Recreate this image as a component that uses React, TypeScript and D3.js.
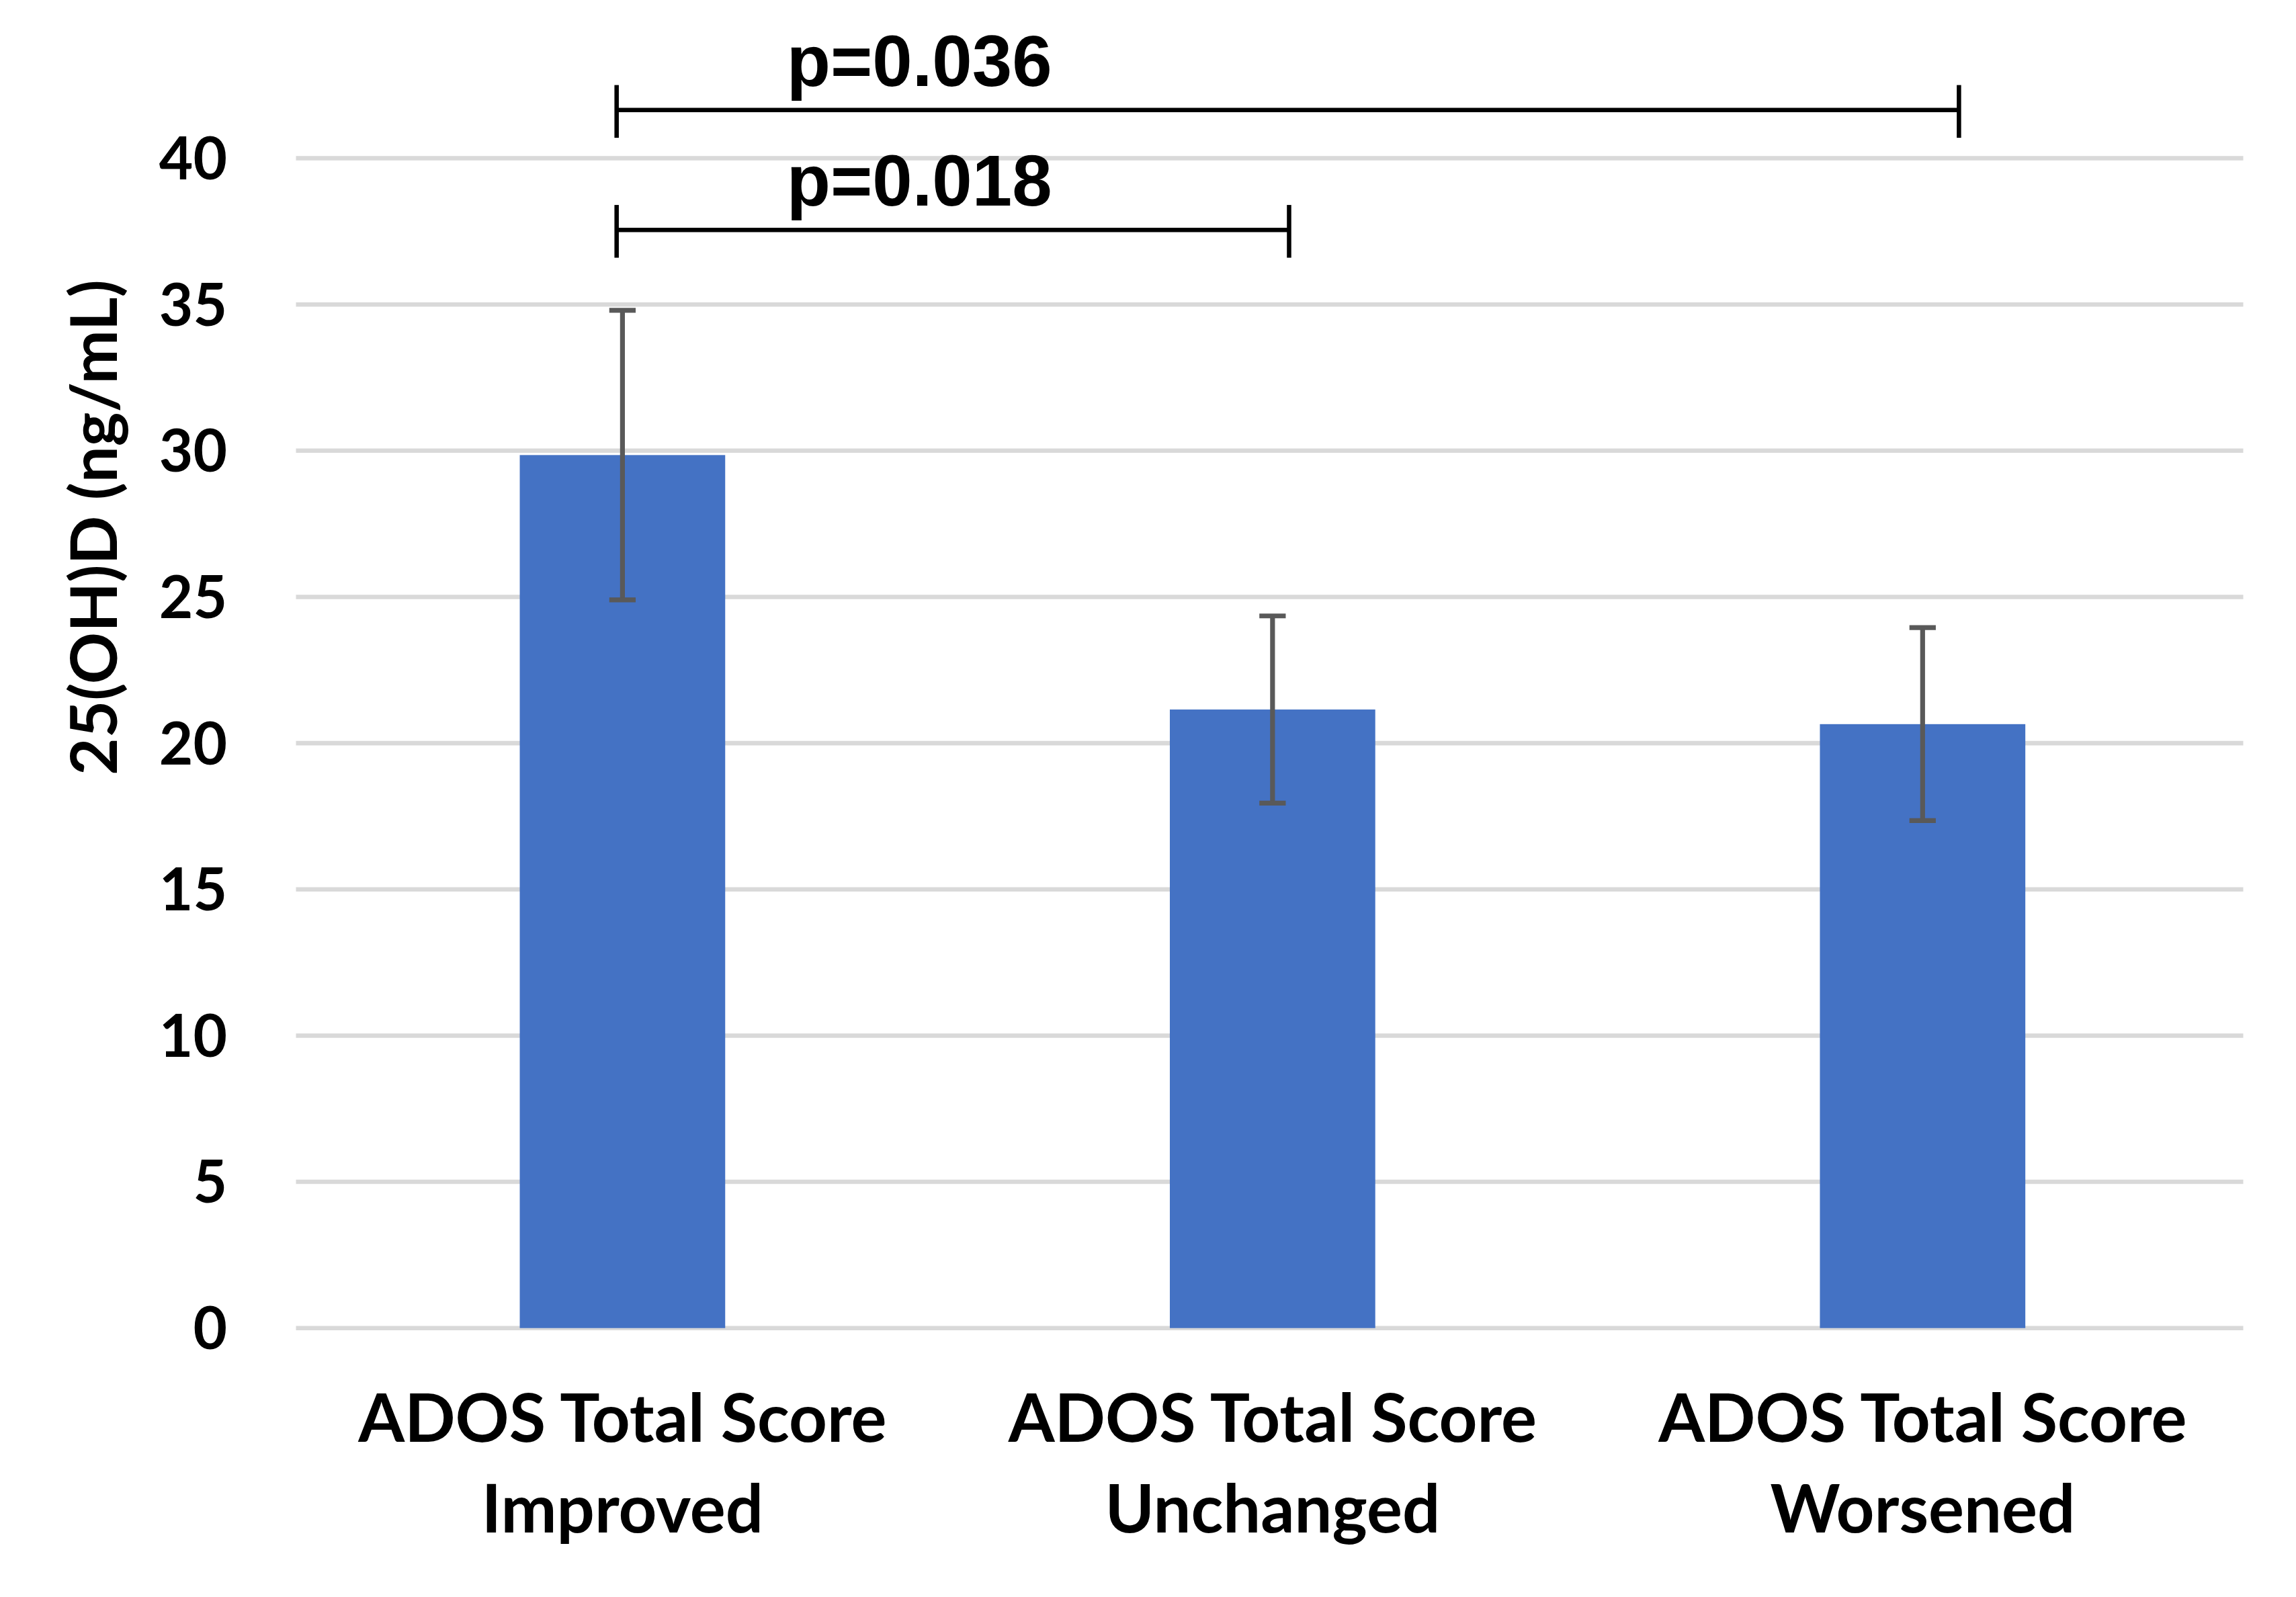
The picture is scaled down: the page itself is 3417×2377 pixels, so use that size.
import * as d3 from "d3";
import { FC, useEffect, useRef } from "react";

// image size and the drawing space used for the viewBox
const W = 3417;
const H = 2377;
const VW = 1567;
const VH = (VW * H) / W;

const categories = ["Improved", "Unchanged", "Worsened"];
const labelTop = "ADOS Total Score";
const means = [29.85, 21.15, 20.65];
const sds = [4.95, 3.2, 3.3];
const yTicks = [0, 5, 10, 15, 20, 25, 30, 35, 40];
const yTitle = "25(OH)D (ng/mL)";

// significance brackets, ends in category units (0..3), level in y units
const bracketLabels = ["p=0.018", "p=0.036"];
const bracketFrom = [0.494, 0.494];
const bracketTo = [1.53, 2.562];
const bracketLevel = [37.55, 41.65];

const margin = { left: 202, right: 1531, top: 108, bottom: 906.5 };
const LABEL_FONT = "Lato, 'Open Sans', sans-serif";

const App: FC = () => {
  const ref = useRef<SVGSVGElement | null>(null);

  useEffect(() => {
    if (!ref.current) return;
    const svg = d3.select(ref.current);
    svg.selectAll("*").remove();

    const x = d3
      .scaleBand<string>()
      .domain(categories)
      .range([margin.left + 1, margin.right + 3])
      .paddingInner(0.684)
      .paddingOuter(0.342);
    const xPos = d3.scaleLinear([0, 3], [margin.left, margin.right]);
    const y = d3.scaleLinear([0, 40], [margin.bottom, margin.top]);

    svg
      .append("rect")
      .attr("width", VW)
      .attr("height", VH)
      .attr("fill", "#fff");

    // gridlines
    svg
      .append("g")
      .selectAll("line")
      .data(yTicks)
      .enter()
      .append("line")
      .attr("x1", margin.left)
      .attr("x2", margin.right)
      .attr("y1", (d) => y(d))
      .attr("y2", (d) => y(d))
      .attr("stroke", "#d9d9d9")
      .attr("stroke-width", 3);

    // y tick labels
    svg
      .append("g")
      .selectAll("text")
      .data(yTicks)
      .enter()
      .append("text")
      .attr("x", 155)
      .attr("y", (d) => y(d))
      .attr("dy", "0.36em")
      .attr("text-anchor", "end")
      .attr("font-family", LABEL_FONT)
      .attr("font-weight", "bold")
      .attr("font-size", 40)
      .text((d) => d);

    // y title
    svg
      .append("text")
      .attr("transform", "translate(80, 360) rotate(-90)")
      .attr("text-anchor", "middle")
      .attr("font-family", LABEL_FONT)
      .attr("font-weight", "bold")
      .attr("font-size", 44)
      .text(yTitle);

    // bars
    svg
      .append("g")
      .selectAll("rect")
      .data(categories)
      .enter()
      .append("rect")
      .attr("x", (d) => x(d) || 0)
      .attr("width", x.bandwidth())
      .attr("y", (_, i) => y(means[i]))
      .attr("height", (_, i) => y(0) - y(means[i]))
      .attr("fill", "#4472c4");

    // error bars
    const err = svg
      .append("g")
      .attr("stroke", "#595959")
      .attr("stroke-width", 3.3)
      .selectAll("g")
      .data(categories)
      .enter()
      .append("g")
      .attr("transform", (d) => `translate(${(x(d) || 0) + x.bandwidth() / 2}, 0)`);
    err
      .append("line")
      .attr("y1", (_, i) => y(means[i] + sds[i]))
      .attr("y2", (_, i) => y(means[i] - sds[i]));
    err
      .append("line")
      .attr("x1", -9)
      .attr("x2", 9)
      .attr("y1", (_, i) => y(means[i] + sds[i]))
      .attr("y2", (_, i) => y(means[i] + sds[i]));
    err
      .append("line")
      .attr("x1", -9)
      .attr("x2", 9)
      .attr("y1", (_, i) => y(means[i] - sds[i]))
      .attr("y2", (_, i) => y(means[i] - sds[i]));

    // x labels
    const xl = svg
      .append("g")
      .selectAll("g")
      .data(categories)
      .enter()
      .append("g")
      .attr("transform", (d) => `translate(${(x(d) || 0) + x.bandwidth() / 2}, 0)`)
      .attr("text-anchor", "middle")
      .attr("font-family", LABEL_FONT)
      .attr("font-weight", "bold")
      .attr("font-size", 45.5);
    xl.append("text").attr("y", 984).text(labelTop);
    xl.append("text").attr("y", 1046).text((d) => d);

    // significance brackets
    const br = svg
      .append("g")
      .attr("stroke", "#000")
      .attr("stroke-width", 3)
      .selectAll("g")
      .data(bracketLabels)
      .enter()
      .append("g");
    br.append("line")
      .attr("x1", (_, i) => xPos(bracketFrom[i]))
      .attr("x2", (_, i) => xPos(bracketTo[i]))
      .attr("y1", (_, i) => y(bracketLevel[i]))
      .attr("y2", (_, i) => y(bracketLevel[i]));
    br.append("line")
      .attr("x1", (_, i) => xPos(bracketFrom[i]))
      .attr("x2", (_, i) => xPos(bracketFrom[i]))
      .attr("y1", (_, i) => y(bracketLevel[i]) - 17)
      .attr("y2", (_, i) => y(bracketLevel[i]) + 19);
    br.append("line")
      .attr("x1", (_, i) => xPos(bracketTo[i]))
      .attr("x2", (_, i) => xPos(bracketTo[i]))
      .attr("y1", (_, i) => y(bracketLevel[i]) - 17)
      .attr("y2", (_, i) => y(bracketLevel[i]) + 19);
    br.append("text")
      .attr("x", (_, i) => xPos(bracketFrom[i]) + 116)
      .attr("y", (_, i) => y(bracketLevel[i]) - 16.5)
      .attr("stroke", "none")
      .attr("font-family", "'Liberation Sans', Arial, sans-serif")
      .attr("font-weight", "bold")
      .attr("font-size", 49)
      .text((d) => d);
  }, []);

  return (
    <svg
      ref={ref}
      width={W}
      height={H}
      viewBox={`0 0 ${VW} ${VH}`}
      style={{ position: "absolute", left: 0, top: 0 }}
    />
  );
};

export default App;
